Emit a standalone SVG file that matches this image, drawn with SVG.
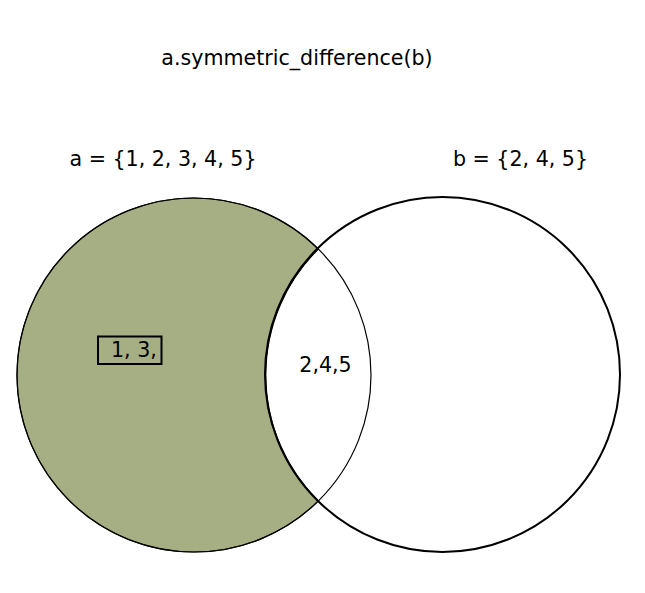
<svg xmlns="http://www.w3.org/2000/svg" width="645" height="593" viewBox="0 0 645 593">
<style>
text{font-family:"DejaVu Sans","Liberation Sans",sans-serif;font-size:20.6px;fill:#000}
</style>
<rect width="645" height="593" fill="#fff"/>
<g id="a">
<path d="M318.3,249 A177 177 0 1 0 318.3,501 A177.5 177.5 0 0 1 318.3,249 Z" fill="#a6ae84" stroke="#1a1a00" stroke-width="1.2"/>
<circle cx="194" cy="375" r="177" fill="none" stroke="#000" stroke-width="1.2"/>
</g>
<g id="b">
<circle cx="442.5" cy="374.5" r="177.5" fill="none" stroke="#000" stroke-width="2"/>
</g>
<g id="ab">
<path d="M318.3,249 A176 176 0 0 0 318.3,501" fill="none" stroke="#000" stroke-width="1"/>
<text x="325.5" y="371.5" text-anchor="middle">2,4,5</text>
</g>
<g id="label13">
<rect x="98" y="336.5" width="63.5" height="27.5" fill="#a6ae84" stroke="#000" stroke-width="2"/>
<text x="111" y="357" text-anchor="start">1, 3,</text>
</g>
<text x="297" y="65" text-anchor="middle">a.symmetric_difference(b)</text>
<text x="163" y="166" text-anchor="middle">a = {1, 2, 3, 4, 5}</text>
<text x="520.5" y="166" text-anchor="middle">b = {2, 4, 5}</text>
</svg>
